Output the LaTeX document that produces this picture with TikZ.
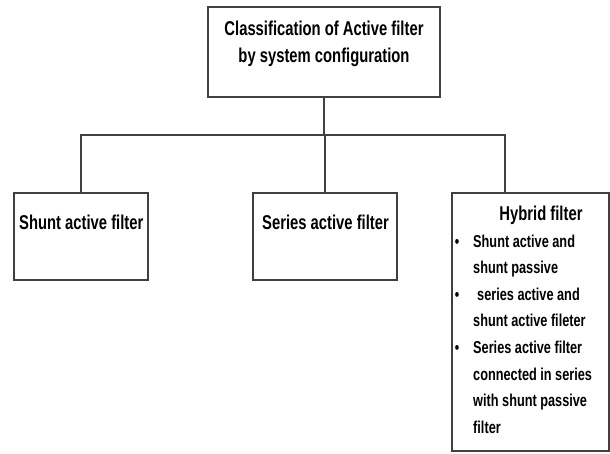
\documentclass[tikz,border=0pt]{standalone}
\usepackage{fontspec}
\setmainfont{Liberation Sans}[FakeStretch=0.74]
\begin{document}
\begin{tikzpicture}[x=1pt,y=-1pt,
  box/.style={draw=black!75, line width=1.3pt, inner sep=0pt, outer sep=0pt, anchor=north west},
  wire/.style={draw=black!75, line width=1.3pt},
  ttl/.style={font=\fontsize{20}{22}\selectfont\bfseries, inner sep=0pt, anchor=base},
  ttlw/.style={font=\fontsize{20}{22}\selectfont\bfseries, inner sep=0pt, anchor=base west},
  itm/.style={font=\fontsize{17.2}{19}\selectfont\bfseries, inner sep=0pt, anchor=base west},
  bul/.style={font=\fontsize{17}{19}\selectfont\bfseries, inner sep=0pt, anchor=base}]
\useasboundingbox (0,0) rectangle (610,453);
\fill[white] (0,0) rectangle (610,453);
% boxes
\node[box, minimum width=232pt, minimum height=90pt] (top) at (208,7) {};
\node[box, minimum width=134pt, minimum height=87pt] (shunt) at (14,193) {};
\node[box, minimum width=144pt, minimum height=87pt] (series) at (253,193) {};
\node[box, minimum width=157pt, minimum height=258pt] (hybrid) at (452,193) {};
% connectors
\coordinate (bus) at (0,135);
\coordinate (hybdrop) at (505,193);
\draw[wire] (top.south) -- (top.south |- bus);
\draw[wire] (shunt.north) -- (shunt.north |- bus) -- (hybdrop |- bus) -- (hybdrop);
\draw[wire] (series.north) -- (series.north |- bus);
% texts
\node[ttl] (t1) at (324,35) {Classification of Active filter};
\node[ttl] (t2) at (324,62) {by system configuration};
\node[ttlw] (ts) at (19,229) {Shunt active filter};
\node[ttlw] (tm) at (262,229) {Series active filter};
\node[ttl] (th) at (541,220) {Hybrid filter};
\node[bul] (b1) at (457,247) {•};
\node[bul] (b2) at (457,300.2) {•};
\node[bul] (b3) at (457,353.4) {•};
\node[itm] (l1) at (473,247) {Shunt active and};
\node[itm] (l2) at (473,273.6) {shunt passive};
\node[itm] (l3) at (477,300.2) {series active and};
\node[itm] (l4) at (473,326.8) {shunt active fileter};
\node[itm] (l5) at (473,353.4) {Series active filter};
\node[itm] (l6) at (473,380) {connected in series};
\node[itm] (l7) at (473,406.6) {with shunt passive};
\node[itm] (l8) at (473,433.2) {filter};
\end{tikzpicture}
\end{document}
